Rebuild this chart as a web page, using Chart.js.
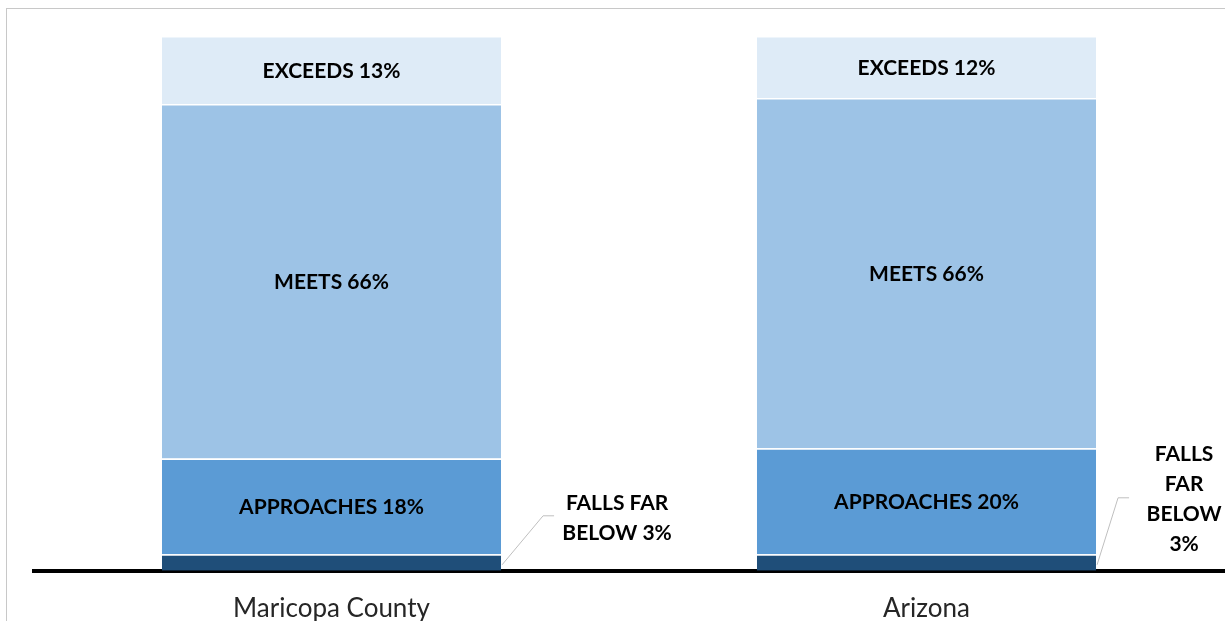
<!DOCTYPE html>
<html>
<head>
<meta charset="utf-8">
<script src="https://cdn.jsdelivr.net/npm/chart.js@4"></script>
<style>
    html, body { margin: 0; padding: 0; background: #ffffff; }
    #wrap { position: relative; width: 1225px; height: 621px; overflow: hidden; }
    #frame { position: absolute; left: 6px; top: 8px; width: 1300px; height: 700px;
             border-top: 1px solid #c8c8c8; border-left: 1px solid #c8c8c8; }
    canvas { position: absolute; left: 0; top: 0; }
</style>
</head>
<body>
<div id="wrap">
    <div id="frame"></div>
    <canvas id="scoreChart" width="1225" height="647"></canvas>
</div>
<script>
// Achievement levels, stacked bottom to top
const categories = ['Maricopa County', 'Arizona'];
const fallsFarBelow = [3.1, 3.1];
const approaches = [17.9, 19.8];
const meets = [66.3, 65.5];
const exceeds = [12.7, 11.6];

const levelNames = ['FALLS FAR BELOW', 'APPROACHES', 'MEETS', 'EXCEEDS'];
const levelColors = ['#1F4E79', '#5B9BD5', '#9DC3E6', '#DEEBF7'];

// Small segments get their label outside, with a leader line
const outsideLines = [
    ['FALLS FAR', 'BELOW 3%'],
    ['FALLS', 'FAR', 'BELOW', '3%']
];

const segmentLabels = {
    id: 'segmentLabels',
    afterDatasetsDraw(chart) {
        const ctx = chart.ctx;
        ctx.save();
        ctx.font = 'bold 21px Lato, "Open Sans", sans-serif';
        ctx.fillStyle = '#000000';
        ctx.textAlign = 'center';
        ctx.textBaseline = 'middle';

        chart.data.datasets.forEach((ds, di) => {
            if (di === 0) return;
            chart.getDatasetMeta(di).data.forEach((bar, i) => {
                const midY = (bar.y + bar.base) / 2;
                ctx.fillText(levelNames[di] + ' ' + Math.round(ds.data[i]) + '%', bar.x, midY + 1);
            });
        });

        // falls far below: leader line + stacked text to the right
        chart.getDatasetMeta(0).data.forEach((bar, i) => {
            const right = bar.x + bar.width / 2;
            const lines = outsideLines[i];
            const lineH = 30;
            let elbowX, elbowY, textX, firstY;
            if (i === 0) {
                elbowX = right + 42; elbowY = bar.base - 55;
                textX = right + 116; firstY = bar.base - 68;
            } else {
                elbowX = right + 22; elbowY = bar.base - 73;
                textX = right + 88; firstY = bar.base - 117;
            }
            ctx.strokeStyle = '#bfbfbf';
            ctx.lineWidth = 1;
            ctx.beginPath();
            ctx.moveTo(right + 1, bar.base - 6);
            ctx.lineTo(elbowX, elbowY);
            ctx.lineTo(elbowX + 11, elbowY);
            ctx.stroke();
            lines.forEach((t, k) => ctx.fillText(t, textX, firstY + k * lineH));
        });
        ctx.restore();
    }
};

function initScoreChart() {
    const ctx = document.getElementById('scoreChart');
    const series = [fallsFarBelow, approaches, meets, exceeds];

    return new Chart(ctx, {
        type: 'bar',
        data: {
            labels: categories,
            datasets: series.map((values, i) => ({
                label: levelNames[i],
                data: values,
                backgroundColor: levelColors[i],
                borderColor: '#ffffff',
                borderWidth: { top: 1.5, bottom: 0, left: 0, right: 0 },
                borderSkipped: false,
                categoryPercentage: 1,
                barPercentage: 0.57
            }))
        },
        options: {
            responsive: false,
            animation: false,
            layout: {
                padding: { left: 34, right: 1, top: 36, bottom: 1 }
            },
            plugins: {
                legend: { display: false },
                tooltip: { enabled: false }
            },
            scales: {
                x: {
                    stacked: true,
                    grid: { display: false, drawTicks: false },
                    border: { display: true, color: '#000000', width: 4 },
                    ticks: {
                        color: '#262626',
                        padding: 22,
                        font: { family: 'Lato, "Open Sans", sans-serif', size: 26 }
                    }
                },
                y: {
                    stacked: true,
                    display: false,
                    min: 0,
                    max: 100
                }
            }
        },
        plugins: [segmentLabels]
    });
}

initScoreChart();
</script>
</body>
</html>
